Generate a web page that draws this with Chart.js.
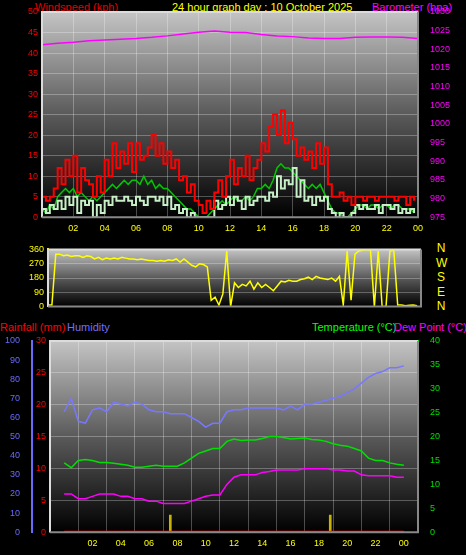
<!DOCTYPE html>
<html><head><meta charset="utf-8">
<script src="https://cdn.jsdelivr.net/npm/chart.js@4"></script>
<style>
body{margin:0;background:#000;width:466px;height:555px;overflow:hidden;position:relative;font-family:"Liberation Sans",Arial,sans-serif}
canvas{position:absolute;left:0}
.t{position:absolute;font-size:11px;white-space:nowrap;line-height:12px}
</style></head><body>
<div class="t" style="left:35px;top:1px;color:#e00000">Windspeed (kph)</div>
<div class="t" style="left:172px;top:1px;color:#ffff00">24 hour graph day : 10 October 2025</div>
<div class="t" style="left:372px;top:1px;color:#ff00ff">Barometer (hpa)</div>
<div class="t" style="left:0px;top:321px;color:#ff0000">Rainfall (mm)</div>
<div class="t" style="left:67px;top:321px;color:#7070ff">Humidity</div>
<div class="t" style="left:312px;top:321px;color:#00ff00">Temperature (°C)</div>
<div class="t" style="left:394px;top:321px;color:#ff00ff">Dew Point (°C)</div>
<div class="t" style="left:436px;top:241px;color:#ffff00;font-size:12px;line-height:14.5px;text-align:center;width:10px">N<br>W<br>S<br>E<br>N</div>
<canvas id="c1" width="466" height="240" style="top:0"></canvas>
<canvas id="c2" width="466" height="76" style="top:240px"></canvas>
<canvas id="c3" width="466" height="237" style="top:318px"></canvas>
<script>
const hourTicks = ["02","04","06","08","10","12","14","16","18","20","22","00"];
const windGust = [5,4,5,7, 12,8,14,10, 15,6,12,9, 8,5,10,6, 14,10,18,12, 16,13,18,11, 18,14,15,17, 20,15,18,13, 16,12,14,9, 10,6,8,4, 3,1,4,2, 6,9,5,10, 14,8,12,10, 15,9,12,14, 18,16,22,25, 20,26,18,23, 19,15,17,14, 16,12,18,13, 17,8,5,5, 6,4,5,3, 5,5,4,5, 5,4,5,5, 5,5,4,5, 5,3,5,4];
const windSpeed = [2,1,3,2, 5,6,7,6, 7,5,6,5, 4,5,4,5, 6,7,8,7, 8,9,8,9, 9,8,10,8, 9,7,8,7, 7,6,5,4, 3,2,2,1, 0,0,0,1, 2,3,4,3, 4,5,4,4, 5,4,5,7, 7,8,7,9, 12,13,12,12, 11,10,9,8, 7,8,7,8, 6,4,2,1, 1,0,0,1, 2,3,3,2, 3,3,2,3, 3,2,3,3, 2,2,2,1];
const windLull = [2,1,3,2, 4,2,5,3, 5,1,4,3, 4,0,3,1, 4,3,5,4, 4,5,4,3, 5,4,3,5, 5,4,5,3, 5,2,3,1, 2,0,1,0, 0,0,0,0, 4,2,3,5, 3,5,4,2, 5,3,4,5, 5,4,6,5, 10,7,9,8, 12,5,9,4, 5,3,5,4, 5,2,1,0, 1,0,0,1, 3,2,3,2, 2,3,1,3, 3,2,3,1, 2,1,2,1];
const windDir = [10,10,330,330, 320,325,315,320, 320,310,320,315, 300,310,295,305, 300,305,300,310, 305,300,300,295, 300,295,290,290, 285,290,285,295, 290,300,280,300, 280,260,250,270, 265,250,40,60, 10,80,350,0, 150,120,140,130, 160,110,150,120, 140,120,100,130, 160,155,165,160, 160,170,175,185, 170,190,180,175, 170,180,160,190, 10,350,40,330, 350,355,360,355, 0,350,0,0, 350,355,10,10, 5,8,10,5];
const barometer = [1021.2,1021.6,1021.9,1022.3,1022.5,1022.7,1022.9,1023.2,1023.6,1024.1,1024.6,1024.9,1024.6,1024.5,1024.0,1023.6,1023.4,1023.0,1022.9,1022.9,1023.2,1023.3,1023.3,1023.2,1022.9];
const humidity = [63,70,58,57,64,65,63,68,67,66,68,67,64,63,63,62,62,62,60,58,55,57,57,63,64,64,65,65,65,65,65,64,66,64,67,67,68,69,70,71,73,75,78,81,83,84,86,86,87];
const temperature = [14.5,13.5,15,15.2,15,14.6,14.6,14.4,14.2,14,13.6,13.6,13.8,14,13.8,13.8,13.8,14.5,15.5,16.5,17,17.5,17.5,19,19.5,19.2,19.3,19.3,19.6,20,20,19.8,19.5,19.6,19.7,19.4,19.3,19,18.5,18.2,18,17.5,17,15.5,15,15,14.5,14.2,14];
const dewPoint = [8,8,7,7,7.5,8,8,8,7.5,7.5,7,7,6.5,6.5,6,6,6,6,6.5,7,7.5,7.8,7.8,10,11.5,12,12,12,12.5,12.7,13,13,13,13,13.3,13.3,13.3,13.3,13,13,12.8,12.8,12,11.8,11.8,11.8,11.8,11.5,11.5];
const rainTimes = [7.5,18.8];
const rainAmounts = [2.7,2.7];
const rainTotal = [0,0];

const q = i=>i*0.25, h=i=>i*0.5, hr=i=>i;
const pts = (arr,f)=>arr.map((v,i)=>({x:f(i),y:v}));

const bgPlugin = {id:'bg',beforeDraw(c){const a=c.chartArea,ctx=c.ctx;const g=ctx.createLinearGradient(0,a.top,0,a.bottom);g.addColorStop(0,'#c4c4c4');g.addColorStop(0.5,'#5a5a5a');g.addColorStop(1,'#000');ctx.save();ctx.fillStyle=g;ctx.fillRect(a.left,a.top,a.right-a.left,a.bottom-a.top);ctx.restore();},
 afterDraw(c){const a=c.chartArea,ctx=c.ctx;ctx.save();ctx.strokeStyle='#dcdcdc';ctx.lineWidth=2;ctx.beginPath();ctx.moveTo(a.left,a.bottom);ctx.lineTo(a.left,a.top);ctx.lineTo(a.right,a.top);ctx.stroke();ctx.strokeStyle='#888';ctx.beginPath();ctx.moveTo(a.right,a.top);ctx.lineTo(a.right,a.bottom);ctx.lineTo(a.left,a.bottom);ctx.stroke();ctx.restore();}};
const font = {family:'"Liberation Sans",Arial,sans-serif',size:9};
const grid = {color:'rgba(255,255,255,0.28)',tickColor:'transparent',drawTicks:false};
function xAxis(show){return {type:'linear',min:0,max:24,display:show,
  ticks:{stepSize:2,color:'#ffff00',font,padding:6,autoSkip:false,callback:(v)=>v===0?'':hourTicks[v/2-1]},
  grid:{...grid,tickColor:'#ffff00'},border:{display:false}};}
function yAxis(pos,min,max,step,color,w,showGrid){return {type:'linear',position:pos,min,max,
  ticks:{stepSize:step,color,font,padding:4,callback:v=>String(v)},grid:showGrid?{...grid}:{display:false},
  border:{display:true,color,width:2},afterFit(s){s.width=w;}};}
const common = {responsive:false,animation:false,plugins:{legend:{display:false},tooltip:{enabled:false}},
  elements:{point:{radius:0},line:{tension:0}}};

new Chart(document.getElementById('c1'),{type:'line',plugins:[bgPlugin],
 data:{datasets:[
  {data:pts(windGust,q),borderColor:'#ff0000',borderWidth:2,stepped:true,yAxisID:'y'},
  {data:pts(windLull,q),borderColor:'#c8f0c8',borderWidth:2,stepped:true,yAxisID:'y'},
  {data:pts(windSpeed,q),borderColor:'#00c800',borderWidth:1.5,yAxisID:'y'},
  {data:pts(barometer,hr),borderColor:'#ff00ff',borderWidth:1.5,yAxisID:'y1'}]},
 options:{...common,layout:{padding:{top:12,bottom:0}},
  scales:{x:xAxis(true),y:yAxis('left',0,50,5,'#ff0000',42,true),y1:yAxis('right',975,1030,5,'#ff00ff',48,false)}}});

new Chart(document.getElementById('c2'),{type:'line',plugins:[bgPlugin],
 data:{datasets:[{data:pts(windDir,q),borderColor:'#ffff00',borderWidth:1.5,yAxisID:'y'}]},
 options:{...common,layout:{padding:{top:6,bottom:6,right:45}},
  scales:{x:xAxis(false),y:yAxis('left',0,360,90,'#ffff00',48,true)}}});

new Chart(document.getElementById('c3'),{type:'line',plugins:[bgPlugin],
 data:{datasets:[
  {data:pts(humidity,h),borderColor:'#7878ff',borderWidth:1.5,yAxisID:'yh'},
  {data:pts(temperature,h),borderColor:'#00e000',borderWidth:1.5,yAxisID:'yt'},
  {data:pts(dewPoint,h),borderColor:'#ff00ff',borderWidth:1.5,yAxisID:'yt'},
  {data:[{x:0,y:rainTotal[0]},{x:24,y:rainTotal[1]}],borderColor:'#ff0000',borderWidth:3,yAxisID:'yr'},
  {type:'bar',data:rainTimes.map((t,i)=>({x:t,y:rainAmounts[i]})),backgroundColor:'#c8b400',barThickness:2,yAxisID:'yr'}]},
 options:{...common,layout:{padding:{top:23}},
  scales:{x:xAxis(true),
   yr:yAxis('left',0,30,5,'#ff0000',18,true),
   yh:yAxis('left',0,100,10,'#6a6aff',32,false),
   yt:yAxis('right',0,40,5,'#00e000',48,false)}}});
</script></body></html>
